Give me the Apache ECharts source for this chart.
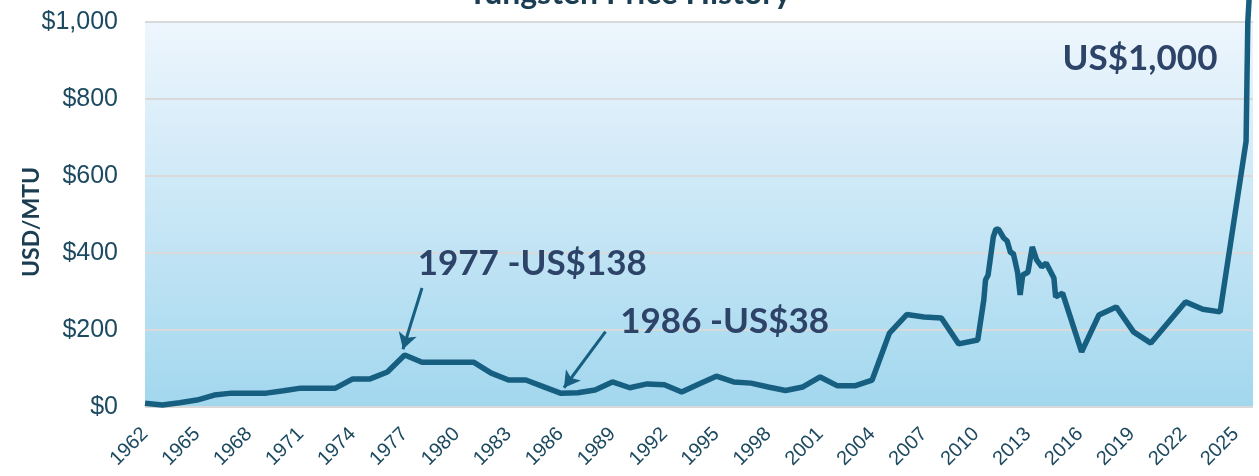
<!DOCTYPE html>
<html>
<head>
<meta charset="utf-8">
<script src="https://cdn.jsdelivr.net/npm/echarts@6/dist/echarts.min.js"></script>
<style>
  html, body { margin: 0; padding: 0; background: #fff; }
  #main { width: 1259px; height: 476px; }
</style>
</head>
<body>
<div id="main"></div>
<script>
// tungsten price, USD/MTU
var years = [
  1962, 1963, 1964, 1965, 1966, 1967, 1968, 1969, 1970, 1971,
  1972, 1973, 1974, 1975, 1976, 1977, 1978, 1979, 1980, 1981,
  1982, 1983, 1984, 1985, 1986, 1987, 1988, 1989, 1990, 1991,
  1992, 1993, 1994, 1995, 1996, 1997, 1998, 1999, 2000, 2001,
  2002, 2003, 2004, 2005, 2006, 2007, 2008, 2009,
  2010.1, 2010.45, 2010.55, 2010.7, 2011.0, 2011.15, 2011.3, 2011.6, 2011.8,
  2012.0, 2012.15, 2012.2, 2012.4, 2012.55, 2012.7, 2013.0, 2013.25, 2013.5,
  2013.8, 2014.05, 2014.2, 2014.5, 2014.6, 2015.0,
  2016.1, 2017.1, 2018.1, 2019.1, 2020.1, 2022.1, 2023.1, 2024.1,
  2025.6, 2025.7, 2025.8
];
var prices = [
  10, 5, 11, 18, 31, 36, 36, 36, 42, 49,
  49, 49, 73, 73, 91, 135, 116, 116, 116, 116,
  88, 70, 70, 53, 36, 37, 44, 65, 50, 60,
  58, 39, 60, 80, 65, 62, 52, 43, 52, 78,
  55, 55, 70, 192, 240, 234, 231, 164,
  174, 278, 330, 343, 442, 462, 462, 439, 431,
  400, 400, 390, 350, 291, 343, 350, 416, 382,
  364, 374, 361, 335, 286, 296,
  143, 239, 260, 195, 166, 273, 254, 247,
  690, 1000, 1080
];
var yTicks = [0, 200, 400, 600, 800, 1000];

// annotation texts and where they sit (data coords)
var notes = [
  { text: '1977 -US$138', at: [1977.75, 372] },
  { text: '1986 -US$38', at: [1989.45, 222] },
  { text: 'US$1,000', at: [2015.0, 905] }
];
var arrows = [
  [[1978.0, 309], [1976.9, 150]],
  [[1988.6, 196], [1986.2, 50]]
];

var chart = echarts.init(document.getElementById('main'));

chart.setOption({
  animation: false,
  title: {
    text: 'Tungsten Price History',
    left: 'center',
    top: -27,
    textStyle: { fontFamily: 'Lato', fontWeight: 'bold', fontSize: 32, color: '#1b3d52' }
  },
  // y axis title, placed by hand so the axis labels don't push it away
  graphic: [{
    type: 'text',
    x: 32,
    y: 222,
    rotation: Math.PI / 2,
    style: {
      text: 'USD/MTU',
      font: 'bold 23px Lato',
      fill: '#1b3d52',
      align: 'center',
      verticalAlign: 'middle'
    }
  }],
  grid: {
    left: 145, right: 6, top: 22, bottom: 69,
    show: true,
    borderWidth: 0,
    backgroundColor: new echarts.graphic.LinearGradient(0, 0, 0, 1, [
      { offset: 0, color: '#eef6fd' },
      { offset: 1, color: '#a2d7ee' }
    ])
  },
  xAxis: {
    type: 'value',
    min: 1962,
    max: 2026,
    interval: 3,
    axisLine: { show: false },
    axisTick: { show: false },
    splitLine: { show: false },
    axisLabel: {
      rotate: 45,
      margin: 24,
      fontSize: 20,
      fontFamily: 'Liberation Sans',
      color: '#1d4a60',
      showMaxLabel: false,
      formatter: function (v) {
        return (v - 1962) % 3 === 0 ? String(v) : '';
      }
    }
  },
  yAxis: {
    type: 'value',
    min: yTicks[0],
    max: yTicks[yTicks.length - 1],
    interval: 200,
    axisLine: { show: false },
    axisTick: { show: false },
    splitLine: { lineStyle: { color: '#d9d9d9', width: 2 } },
    axisLabel: {
      margin: 27,
      fontSize: 25,
      fontFamily: 'Liberation Sans',
      color: '#1d4a60',
      formatter: function (v) { return '$' + v.toLocaleString('en-US'); }
    }
  },
  series: [{
    type: 'line',
    data: years.map(function (y, i) { return [y, prices[i]]; }),
    symbol: 'none',
    clip: false,
    lineStyle: { color: '#175f80', width: 5.5 },
    markLine: {
      silent: true,
      symbol: ['none', 'arrow'],
      symbolSize: [14, 16],
      label: { show: false },
      lineStyle: { color: '#175f80', width: 3, type: 'solid' },
      data: arrows.map(function (a) {
        return [{ coord: a[0] }, { coord: a[1] }];
      })
    },
    markPoint: {
      silent: true,
      symbol: 'circle',
      symbolSize: 0,
      data: notes.map(function (n) {
        return {
          coord: n.at,
          label: {
            show: true,
            position: 'right',
            distance: 0,
            formatter: n.text,
            fontFamily: 'Lato',
            fontWeight: 'bold',
            fontSize: 35,
            color: '#2d4468'
          }
        };
      })
    }
  }]
});
</script>
</body>
</html>
